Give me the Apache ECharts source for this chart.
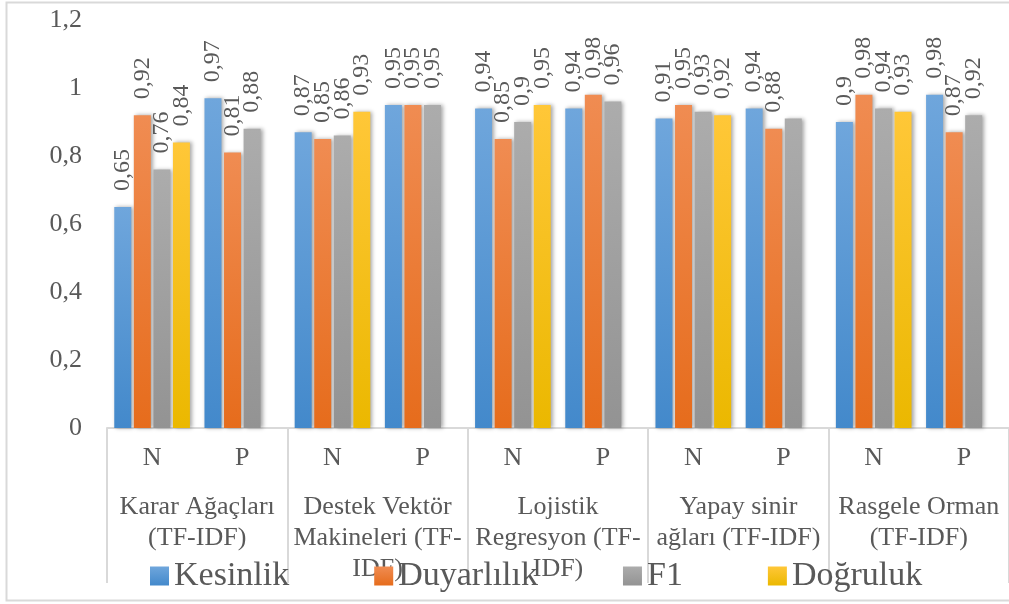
<!DOCTYPE html>
<html>
<head>
<meta charset="utf-8">
<script src="https://cdn.jsdelivr.net/npm/echarts@6/dist/echarts.min.js"></script>
<style>
  html, body { margin: 0; padding: 0; background: #fff; }
  #chart { width: 1009px; height: 604px; }
</style>
</head>
<body>
<div id="chart"></div>
<script>
var categories = ['N', 'P', 'N', 'P', 'N', 'P', 'N', 'P', 'N', 'P'];
var groups = ['Karar Ağaçları\n(TF-IDF)', 'Destek Vektör\nMakineleri (TF-\nIDF)', 'Lojistik\nRegresyon (TF-\nIDF)', 'Yapay sinir\nağları (TF-IDF)', 'Rasgele Orman\n(TF-IDF)'];
var seriesNames = ['Kesinlik', 'Duyarlılık', 'F1', 'Doğruluk'];
var kesinlik = [0.65, 0.97, 0.87, 0.95, 0.94, 0.94, 0.91, 0.94, 0.9, 0.98];
var duyarlilik = [0.92, 0.81, 0.85, 0.95, 0.85, 0.98, 0.95, 0.88, 0.98, 0.87];
var f1 = [0.76, 0.88, 0.86, 0.95, 0.9, 0.96, 0.93, 0.91, 0.94, 0.92];
var dogruluk = [0.84, null, 0.93, null, 0.95, null, 0.92, null, 0.93, null];
var yTicks = [0, 0.2, 0.4, 0.6, 0.8, 1, 1.2];
// F1 label not shown on Yapay sinir P
var hiddenLabels = { 2: [7] };

var font = '"Liberation Serif", "Times New Roman", serif';
var textColor = '#595959';
var lineColor = '#d9d9d9';

function grad(top, bottom) {
  return new echarts.graphic.LinearGradient(0, 0, 0, 1, [
    { offset: 0, color: top },
    { offset: 1, color: bottom }
  ]);
}
var colors = [
  grad('#6fa6dc', '#4389cb'),
  grad('#f08c52', '#e66c1c'),
  grad('#acacac', '#939393'),
  grad('#ffc738', '#ebb800')
];

function comma(v) {
  return String(v).replace('.', ',');
}

function makeSeries(name, values, idx) {
  var hidden = hiddenLabels[idx] || [];
  return {
    name: name,
    type: 'bar',
    barWidth: 17,
    barGap: '15%',
    data: values.map(function (v, i) {
      if (hidden.indexOf(i) >= 0) return { value: v, label: { show: false } };
      return v;
    }),
    itemStyle: {
      color: colors[idx],
      shadowColor: 'rgba(0,0,0,0.35)',
      shadowBlur: 4,
      shadowOffsetX: 2,
      shadowOffsetY: 0
    },
    label: {
      show: true,
      position: 'top',
      rotate: 90,
      align: 'left',
      verticalAlign: 'middle',
      distance: 16,
      fontFamily: font,
      fontSize: 24,
      color: textColor,
      formatter: function (p) { return comma(p.value); }
    }
  };
}

var chart = echarts.init(document.getElementById('chart'));
chart.setOption({
  backgroundColor: '#ffffff',
  animation: false,
  graphic: [{
    type: 'rect',
    shape: { x: 6.5, y: 2.5, width: 1010, height: 598 },
    style: { fill: 'none', stroke: lineColor, lineWidth: 2 },
    silent: true,
    z: -1
  }],
  grid: { left: 107, top: 20, width: 907, bottom: 176 },
  legend: {
    data: seriesNames,
    left: 145,
    top: 554,
    itemWidth: 19,
    itemHeight: 19,
    itemGap: 85,
    icon: 'rect',
    textStyle: { fontFamily: font, fontSize: 34, color: textColor, padding: [0, 0, 0, 0] }
  },
  xAxis: [{
    type: 'category',
    data: categories,
    axisLine: { show: true, lineStyle: { color: lineColor, width: 2 } },
    axisTick: { show: false },
    axisLabel: { fontFamily: font, fontSize: 26, color: textColor, margin: 17, interval: 0 }
  }, {
    type: 'category',
    data: groups,
    position: 'bottom',
    axisLine: { show: false },
    axisTick: { show: true, length: 155, interval: 0, lineStyle: { color: lineColor, width: 2 } },
    axisLabel: { fontFamily: font, fontSize: 26, color: textColor, margin: 64, interval: 0, lineHeight: 31 }
  }],
  yAxis: {
    type: 'value',
    min: 0,
    max: yTicks[yTicks.length - 1],
    interval: 0.2,
    splitLine: { show: false },
    axisLine: { show: false },
    axisTick: { show: false },
    axisLabel: {
      fontFamily: font, fontSize: 26, color: textColor, margin: 25,
      formatter: function (v) { return comma(Math.round(v * 10) / 10); }
    }
  },
  series: [
    makeSeries(seriesNames[0], kesinlik, 0),
    makeSeries(seriesNames[1], duyarlilik, 1),
    makeSeries(seriesNames[2], f1, 2),
    makeSeries(seriesNames[3], dogruluk, 3)
  ]
});
</script>
</body>
</html>
